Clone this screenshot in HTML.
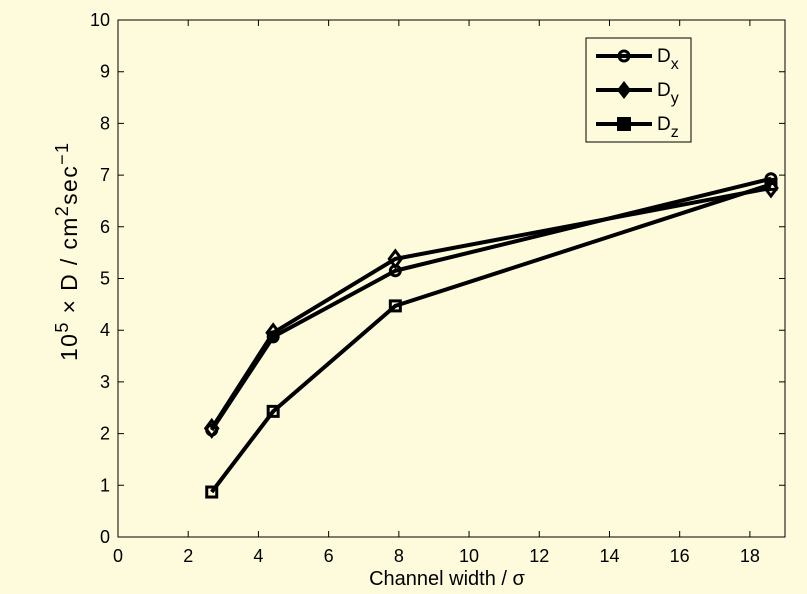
<!DOCTYPE html>
<html><head><meta charset="utf-8"><style>
body{margin:0;background:#fdfbdc;}
svg{display:block;font-family:"Liberation Sans",sans-serif;}
</style></head><body>
<svg id="chart" width="807" height="594">
<rect width="807" height="594" fill="#fdfbdc"/>
<g id="axes"></g>
<g id="series"></g>
<g id="legend">
<rect x="586" y="38" width="105" height="104" fill="#fdfbdc" stroke="#000" stroke-width="1"/>
</g>
<text x="447" y="585" font-size="20" text-anchor="middle">Channel width / σ</text>
<text transform="translate(77,252) rotate(-90)" font-size="23" text-anchor="middle" textLength="218" lengthAdjust="spacing">10<tspan dy="-9" font-size="18">5</tspan><tspan dy="9"> × D / cm</tspan><tspan dy="-9" font-size="18">2</tspan><tspan dy="9">sec</tspan><tspan dy="-9" font-size="18">−1</tspan></text>
</svg>
<script>
const xVals=[2.67,4.42,7.9,18.6];
const dx=[2.07,3.87,5.15,6.93];
const dy=[2.1,3.95,5.38,6.75];
const dz=[0.87,2.43,4.47,6.82];
const xTicks=[0,2,4,6,8,10,12,14,16,18];
const yTicks=[0,1,2,3,4,5,6,7,8,9,10];
const L=118,R=785,T=20,B=537,XMAX=19,YMAX=10;
const NS="http://www.w3.org/2000/svg";
const sx=v=>L+(R-L)*v/XMAX, sy=v=>B-(B-T)*v/YMAX;
function mk(tag,attrs,parent){const e=document.createElementNS(NS,tag);for(const k in attrs)e.setAttribute(k,attrs[k]);parent.appendChild(e);return e;}
const ax=document.getElementById('axes');
let f=mk('rect',{x:L,y:T,width:R-L,height:B-T,fill:'none',stroke:'#000','stroke-width':1},ax);


xTicks.forEach(v=>{
 let l=mk('path',{d:`M${sx(v)},${B}v-6M${sx(v)},${T}v6`,stroke:'#000'},ax);
 
 
 let t=mk('text',{x:sx(v),y:B+25,'font-size':18,'text-anchor':'middle'},ax);t.textContent=v;
 
 
});
yTicks.forEach(v=>{
 let l=mk('path',{d:`M${L},${sy(v)}h6M${R},${sy(v)}h-6`,stroke:'#000'},ax);
 
 
 let t=mk('text',{x:L-8,y:sy(v)+6,'font-size':18,'text-anchor':'end'},ax);t.textContent=v;
 
 
});
const sg=document.getElementById('series');
function marker(type,x,y,p){
 let m;
 if(type==='o')m=mk('circle',{cx:x,cy:y,r:5,fill:'none',stroke:'#000','stroke-width':3},p);
 else if(type==='d')m=mk('path',{d:`M${x},${y-8}L${x+6},${y}L${x},${y+8}L${x-6},${y}Z`,fill:'none',stroke:'#000','stroke-width':3},p);
 else m=mk('rect',{x:x-5,y:y-5,width:10,height:10,fill:'none',stroke:'#000','stroke-width':3},p);
 
 
}
[[dx,'o','dx'],[dy,'d','dy'],[dz,'s','dz']].forEach(([ys,type,n])=>{
 const g=mk('g',{},sg);
 
 
 mk('polyline',{points:ys.map((v,i)=>sx(xVals[i])+','+sy(v)).join(' '),fill:'none',stroke:'#000','stroke-width':4,'stroke-linejoin':'round'},g);
 ys.forEach((v,i)=>marker(type,sx(xVals[i]),sy(v),g));
});
const lg=document.getElementById('legend');
[['o','D','x',56],['d','D','y',90],['s','D','z',124]].forEach(([type,a,b,y])=>{
 const g=mk('g',{},lg);
 
 
 mk('line',{x1:596,x2:652,y1:y,y2:y,stroke:'#000','stroke-width':4},g);
 if(type==='o')mk('circle',{cx:624,cy:y,r:5,fill:'none',stroke:'#000','stroke-width':3},g);
 else if(type==='d')mk('path',{d:`M624,${y-9}L631,${y}L624,${y+9}L617,${y}Z`,fill:'#000'},g);
 else mk('rect',{x:617,y:y-7,width:14,height:14,fill:'#000'},g);
 const t=mk('text',{x:657,y:y+6,'font-size':19},g);
 t.innerHTML=a+'<tspan dy="7" font-size="16">'+b+'</tspan>';
});
</script>
</body></html>
